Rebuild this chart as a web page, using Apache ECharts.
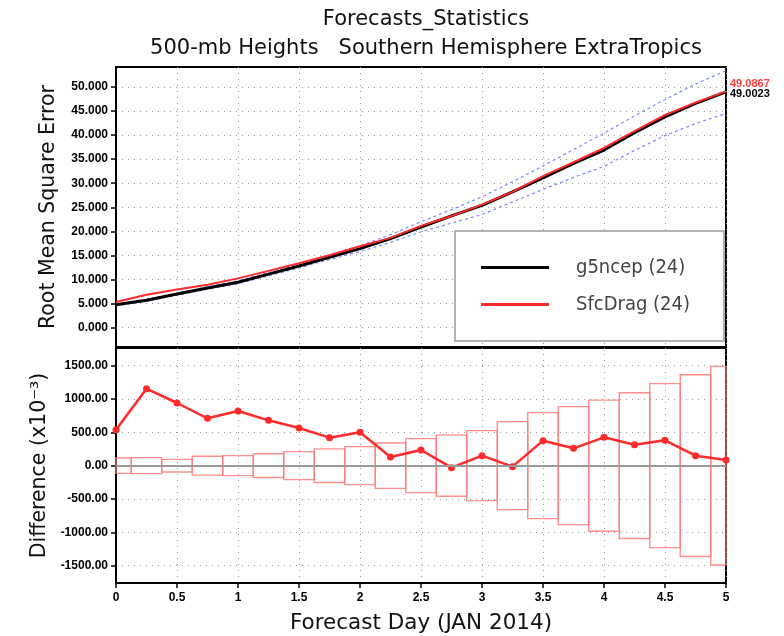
<!DOCTYPE html>
<html>
<head>
<meta charset="utf-8">
<script src="https://cdn.jsdelivr.net/npm/echarts@6/dist/echarts.min.js"></script>
<style>
  html, body { margin: 0; padding: 0; background: #fff; }
  #chart { width: 784px; height: 636px; }
</style>
</head>
<body>
<div id="chart"></div>
<script>
// Forecast lead times (days)
const days = [0, 0.25, 0.5, 0.75, 1, 1.25, 1.5, 1.75, 2, 2.25, 2.5, 2.75, 3, 3.25, 3.5, 3.75, 4, 4.25, 4.5, 4.75, 5];

// RMSE of 500-mb heights, Southern Hemisphere extratropics
const g5ncep  = [4.75, 5.65, 6.95, 8.2, 9.4, 11.1, 12.8, 14.6, 16.4, 18.5, 20.9, 23.2, 25.4, 28.2, 31.1, 34.1, 36.9, 40.5, 43.8, 46.6, 49.0023];
const sfcDrag = [5.29, 6.805, 7.89, 8.91, 10.22, 11.78, 13.365, 15.02, 16.9, 18.63, 21.135, 23.17, 25.55, 28.185, 31.475, 34.36, 37.325, 40.815, 44.18, 46.75, 49.0867];

// Spread envelope around the g5ncep curve
const bandUpper = [4.95, 5.85, 7.15, 8.45, 9.7, 11.45, 13.2, 15.1, 17.0, 19.3, 22.0, 24.5, 27.2, 30.3, 33.6, 37.0, 40.4, 44.0, 47.4, 50.6, 53.4];
const bandLower = [4.55, 5.45, 6.75, 7.95, 9.1, 10.75, 12.4, 14.1, 15.8, 17.7, 19.9, 21.7, 23.5, 26.1, 28.7, 31.2, 33.5, 36.8, 39.9, 42.4, 44.5];

// SfcDrag minus g5ncep (x10^-3) and its significance thresholds
const difference = [540, 1155, 940, 710, 820, 680, 565, 420, 500, 130, 235, -30, 150, -15, 375, 260, 425, 315, 380, 150, 84.4];
const sigUpper = [115, 120, 95, 142, 150, 178, 210, 252, 285, 340, 405, 458, 525, 660, 795, 885, 983, 1093, 1230, 1363, 1490];
const sigLower = [-115, -120, -95, -142, -150, -178, -210, -252, -285, -340, -405, -458, -525, -660, -795, -885, -983, -1093, -1230, -1363, -1490];

// Axis tick values
const rmseTicks = [0, 5, 10, 15, 20, 25, 30, 35, 40, 45, 50];
const diffTicks = [-1500, -1000, -500, 0, 500, 1000, 1500];

const pair = (xs, ys) => xs.map((x, i) => [x, ys[i]]);
const boxData = days.map((d, i) => [d, sigUpper[i], sigLower[i]]);

const BOX_HALF_WIDTH = 0.125;
const tickFont = { fontFamily: 'Liberation Sans, Arial, sans-serif', fontWeight: 'bold', fontSize: 12, color: '#000' };
const yNameFont = { fontFamily: 'DejaVu Sans, sans-serif', fontSize: 20.5, color: '#111' };
const xNameFont = { fontFamily: 'DejaVu Sans, sans-serif', fontSize: 21.5, color: '#111' };
const titleFont = { fontFamily: 'DejaVu Sans, sans-serif', fontWeight: 'normal', fontSize: 21, color: '#111' };
const gridDots = { show: true, lineStyle: { color: '#9a9a9a', width: 1, type: [1, 5] } };
const frameLine = { show: true, onZero: false, lineStyle: { color: '#000', width: 2 } };

const chart = echarts.init(document.getElementById('chart'), null, { renderer: 'canvas' });

chart.setOption({
  animation: false,
  backgroundColor: '#fff',
  title: [
    { text: 'Forecasts_Statistics', left: 421, top: 4, textAlign: 'center', textStyle: titleFont },
    { text: '500-mb Heights   Southern Hemisphere ExtraTropics', left: 421, top: 33, textAlign: 'center', textStyle: titleFont }
  ],
  legend: {
    data: ['g5ncep (24)', 'SfcDrag (24)'],
    orient: 'vertical',
    left: 455, top: 231,
    padding: [24, 34, 24, 26],
    itemGap: 12,
    itemWidth: 68, itemHeight: 3,
    icon: 'rect',
    selectedMode: false,
    backgroundColor: '#fff',
    borderColor: '#9a9a9a', borderWidth: 1.5,
    textStyle: { fontFamily: 'Liberation Sans Narrow, DejaVu Sans Condensed, sans-serif', fontSize: 20, color: '#444',
                 lineHeight: 25, padding: [0, 0, 0, 22] }
  },
  grid: [
    { left: 116, right: 58, top: 67, height: 280, show: true, borderColor: '#000', borderWidth: 2, backgroundColor: 'transparent' },
    { left: 116, right: 58, top: 348, height: 235, show: true, borderColor: '#000', borderWidth: 2, backgroundColor: 'transparent' }
  ],
  xAxis: [
    { gridIndex: 0, type: 'value', min: 0, max: 5, interval: 0.5,
      axisLine: { show: false }, axisTick: { show: false }, axisLabel: { show: false }, splitLine: gridDots },
    { gridIndex: 1, type: 'value', min: 0, max: 5, interval: 0.5,
      name: 'Forecast Day (JAN 2014)', nameLocation: 'middle', nameGap: 29, nameTextStyle: xNameFont,
      axisLine: frameLine,
      axisTick: { show: true, inside: false, length: 5, lineStyle: { color: '#000', width: 1.5 } },
      axisLabel: Object.assign({ margin: 9 }, tickFont),
      splitLine: gridDots }
  ],
  yAxis: [
    { gridIndex: 0, type: 'value', min: -4.05, max: 54.16,
      name: 'Root Mean Square Error', nameLocation: 'middle', nameGap: 57, nameTextStyle: yNameFont,
      axisLine: frameLine,
      axisTick: { show: true, length: 5, customValues: rmseTicks, lineStyle: { color: '#000', width: 1.5 } },
      axisLabel: Object.assign({ customValues: rmseTicks, margin: 8, formatter: v => v.toFixed(3) }, tickFont),
      splitLine: gridDots },
    { gridIndex: 1, type: 'value', min: -1760, max: 1765,
      name: 'Difference (x10⁻³)', nameLocation: 'middle', nameGap: 57, nameTextStyle: yNameFont,
      axisLine: frameLine,
      axisTick: { show: true, length: 5, customValues: diffTicks, lineStyle: { color: '#000', width: 1.5 } },
      axisLabel: Object.assign({ customValues: diffTicks, margin: 8, formatter: v => v.toFixed(2) }, tickFont),
      splitLine: gridDots }
  ],
  series: [
    { name: 'upper', type: 'line', xAxisIndex: 0, yAxisIndex: 0, data: pair(days, bandUpper),
      symbol: 'none', silent: true, lineStyle: { color: '#7f86ff', width: 1.2, type: [3, 3] }, z: 2 },
    { name: 'lower', type: 'line', xAxisIndex: 0, yAxisIndex: 0, data: pair(days, bandLower),
      symbol: 'none', silent: true, lineStyle: { color: '#7f86ff', width: 1.2, type: [3, 3] }, z: 2 },
    { name: 'g5ncep (24)', type: 'line', xAxisIndex: 0, yAxisIndex: 0, data: pair(days, g5ncep),
      symbol: 'none', color: '#000', lineStyle: { color: '#000', width: 3 }, z: 3,
      endLabel: { show: true, distance: 4, offset: [0, 2],
        formatter: p => p.value[1].toFixed(4),
        fontFamily: 'Liberation Sans, Arial, sans-serif', fontWeight: 'bold', fontSize: 11, color: '#000' } },
    { name: 'SfcDrag (24)', type: 'line', xAxisIndex: 0, yAxisIndex: 0, data: pair(days, sfcDrag),
      symbol: 'none', color: '#ff2a2a', lineStyle: { color: '#ff2a2a', width: 2 }, z: 4,
      endLabel: { show: true, distance: 4, offset: [0, -7],
        formatter: p => p.value[1].toFixed(4),
        fontFamily: 'Liberation Sans, Arial, sans-serif', fontWeight: 'bold', fontSize: 11, color: '#ff3b3b' } },
    { name: 'threshold', type: 'custom', xAxisIndex: 1, yAxisIndex: 1, data: boxData, silent: true, z: 2,
      renderItem: function (params, api) {
        const d = api.value(0);
        const p1 = api.coord([d - BOX_HALF_WIDTH, api.value(1)]);
        const p2 = api.coord([d + BOX_HALF_WIDTH, api.value(2)]);
        const cs = params.coordSys;
        const rect = echarts.graphic.clipRectByRect(
          { x: p1[0], y: p1[1], width: p2[0] - p1[0], height: p2[1] - p1[1] },
          { x: cs.x, y: cs.y, width: cs.width, height: cs.height });
        if (!rect) return null;
        return { type: 'rect', shape: rect,
                 style: { fill: 'none', stroke: '#ff7b7b', lineWidth: 1.4, opacity: 0.85 } };
      } },
    { name: 'difference', type: 'line', xAxisIndex: 1, yAxisIndex: 1, data: pair(days, difference),
      symbol: 'circle', symbolSize: 7, color: '#ff2a2a',
      lineStyle: { color: '#ff2a2a', width: 2.5 }, itemStyle: { color: '#ff2a2a' }, z: 4,
      markLine: { silent: true, symbol: 'none', label: { show: false },
        lineStyle: { color: '#9a9a9a', width: 2, type: 'solid' },
        data: [{ yAxis: 0 }] } }
  ]
});
</script>
</body>
</html>
